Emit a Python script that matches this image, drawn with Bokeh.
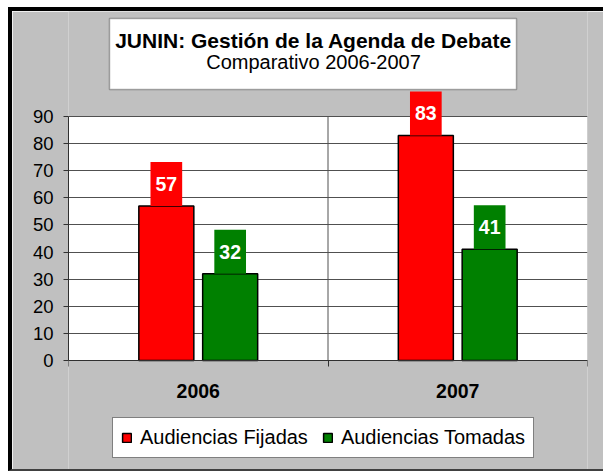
from bokeh.plotting import figure
from bokeh.models import (Range1d, FixedTicker, ColumnDataSource, Label, Legend, LegendItem,
                          BoxAnnotation)
from bokeh.transform import dodge
from bokeh.embed import file_html
from bokeh.resources import INLINE

# ---- data ----
years = ["2006", "2007"]
fijadas = [57, 83]
tomadas = [32, 41]
series_names = ["Audiencias Fijadas", "Audiencias Tomadas"]
title_line1 = "JUNIN: Gestión de la Agenda de Debate"
title_line2 = "Comparativo 2006-2007"
y_ticks = [0, 10, 20, 30, 40, 50, 60, 70, 80, 90]

FONT = "Liberation Sans"
RED = "#FF0000"
GREEN = "#008000"
GRAY_BG = "#C0C0C0"
OFF = 0.123
BAR_W = 0.212

# ---- layout (pixels) ----
W, H = 591, 458              # figure size
LEFT = 56                    # space for the y axis
FW = 519                     # frame width  (= plot area width)
PLOT_H = 244                 # pixel height of the 0..90 plot area
ZERO_Y = 349
PX = PLOT_H / y_ticks[-1]    # pixels per unit
UX = FW / len(years)         # pixels per category


def dx(px):  # figure x pixel -> data x
    return (px - LEFT) / UX


def dy(py):  # figure y pixel -> data y
    return (ZERO_Y - py) / PX


xpos = [i + 0.5 for i in range(len(years))]
src = ColumnDataSource(dict(x=xpos, year=years, fij=fijadas, tom=tomadas))

p = figure(x_range=Range1d(0, len(years)), y_range=Range1d(dy(H), dy(0)),
           frame_width=FW, frame_height=H,
           min_border_left=LEFT, min_border_right=W - LEFT - FW, min_border_top=0,
           min_border_bottom=0, title_location=None,
           output_backend="svg", toolbar_location=None)
p.styles = {"margin-left": "8px", "margin-top": "7px",
            "border-top": "4px solid black", "border-left": "4px solid black",
            "border-bottom": "2px solid #404040"}
p.background_fill_color = GRAY_BG
p.border_fill_color = GRAY_BG
p.outline_line_color = None

# white plot area
p.add_layout(BoxAnnotation(bottom=0, top=y_ticks[-1], fill_color="white", fill_alpha=1.0,
                           line_color="#808080", line_width=1, level="image"))

# y axis
p.yaxis.ticker = FixedTicker(ticks=y_ticks)
p.yaxis.bounds = (0, y_ticks[-1])
p.yaxis.major_tick_out = 5
p.yaxis.major_tick_in = 0
p.yaxis.minor_tick_line_color = None
p.yaxis.axis_line_color = "#303030"
p.yaxis.major_tick_line_color = "#303030"
p.yaxis.major_label_text_font = FONT
p.yaxis.major_label_text_font_size = "18.5px"
p.yaxis.major_label_text_color = "black"
p.yaxis.major_label_standoff = 10
p.ygrid.ticker = FixedTicker(ticks=y_ticks)
p.ygrid.grid_line_color = "#505050"
p.ygrid.grid_line_width = 1
p.xgrid.visible = False

# vertical category separators
bnds = list(range(1, len(years)))
p.segment(x0=bnds, y0=[0] * len(bnds), x1=bnds, y1=[y_ticks[-1]] * len(bnds),
          line_color="#505050", line_width=1)

# x axis at value 0: labels at category centres, ticks at category boundaries
xax = p.xaxis[0]
xax.fixed_location = 0
xax.ticker = FixedTicker(ticks=xpos, minor_ticks=list(range(len(years) + 1)))
xax.major_label_overrides = {x: y for x, y in zip(xpos, years)}
xax.major_tick_out = 0
xax.major_tick_in = 0
xax.major_tick_line_color = None
xax.minor_tick_out = 6
xax.minor_tick_in = 0
xax.minor_tick_line_color = "#303030"
xax.axis_line_color = "#303030"
xax.major_label_text_font = FONT
xax.major_label_text_font_size = "19.5px"
xax.major_label_text_font_style = "bold"
xax.major_label_text_color = "black"
xax.major_label_standoff = 17

r1 = p.vbar(x=dodge("x", -OFF), top="fij", width=BAR_W, source=src,
            fill_color=RED, line_color="black", line_width=1.5)
r2 = p.vbar(x=dodge("x", OFF), top="tom", width=BAR_W, source=src,
            fill_color=GREEN, line_color="black", line_width=1.5)

# value labels (white bold on coloured box)
for i in range(len(years)):
    for vals, off, col in ((fijadas, -OFF, RED), (tomadas, OFF, GREEN)):
        p.add_layout(Label(x=xpos[i] + off, y=vals[i], y_offset=22,
                           text=str(vals[i]), text_align="center", text_baseline="middle",
                           text_color="white", text_font=FONT, text_font_style="bold",
                           text_font_size="19.5px", background_fill_color=col,
                           background_fill_alpha=1.0, padding=(5, 15)))

# title box
p.add_layout(BoxAnnotation(left=dx(97), right=dx(504), top=dy(7), bottom=dy(78),
                           fill_color="white", fill_alpha=1.0,
                           line_color="black", line_width=1.5))
p.add_layout(Label(x=dx(301), y=dy(29), text=title_line1,
                   text_align="center", text_baseline="middle", text_font=FONT,
                   text_font_style="bold", text_font_size="21px", text_color="black"))
p.add_layout(Label(x=dx(301), y=dy(50), text=title_line2,
                   text_align="center", text_baseline="middle", text_font=FONT,
                   text_font_size="20px", text_color="black"))

legend = Legend(items=[LegendItem(label=series_names[0], renderers=[r1]),
                       LegendItem(label=series_names[1], renderers=[r2])],
                orientation="horizontal", location=(44, 11))
legend.glyph_width = 11
legend.glyph_height = 11
legend.label_standoff = 8
legend.spacing = 14
legend.padding = 8
legend.margin = 0
legend.label_height = 23
legend.label_text_font = FONT
legend.label_text_font_size = "20px"
legend.label_text_color = "black"
legend.border_line_color = "black"
legend.border_line_width = 1
legend.background_fill_color = "white"
legend.background_fill_alpha = 1.0
p.add_layout(legend, "center")

open("out.html", "w").write(file_html(p, INLINE))
